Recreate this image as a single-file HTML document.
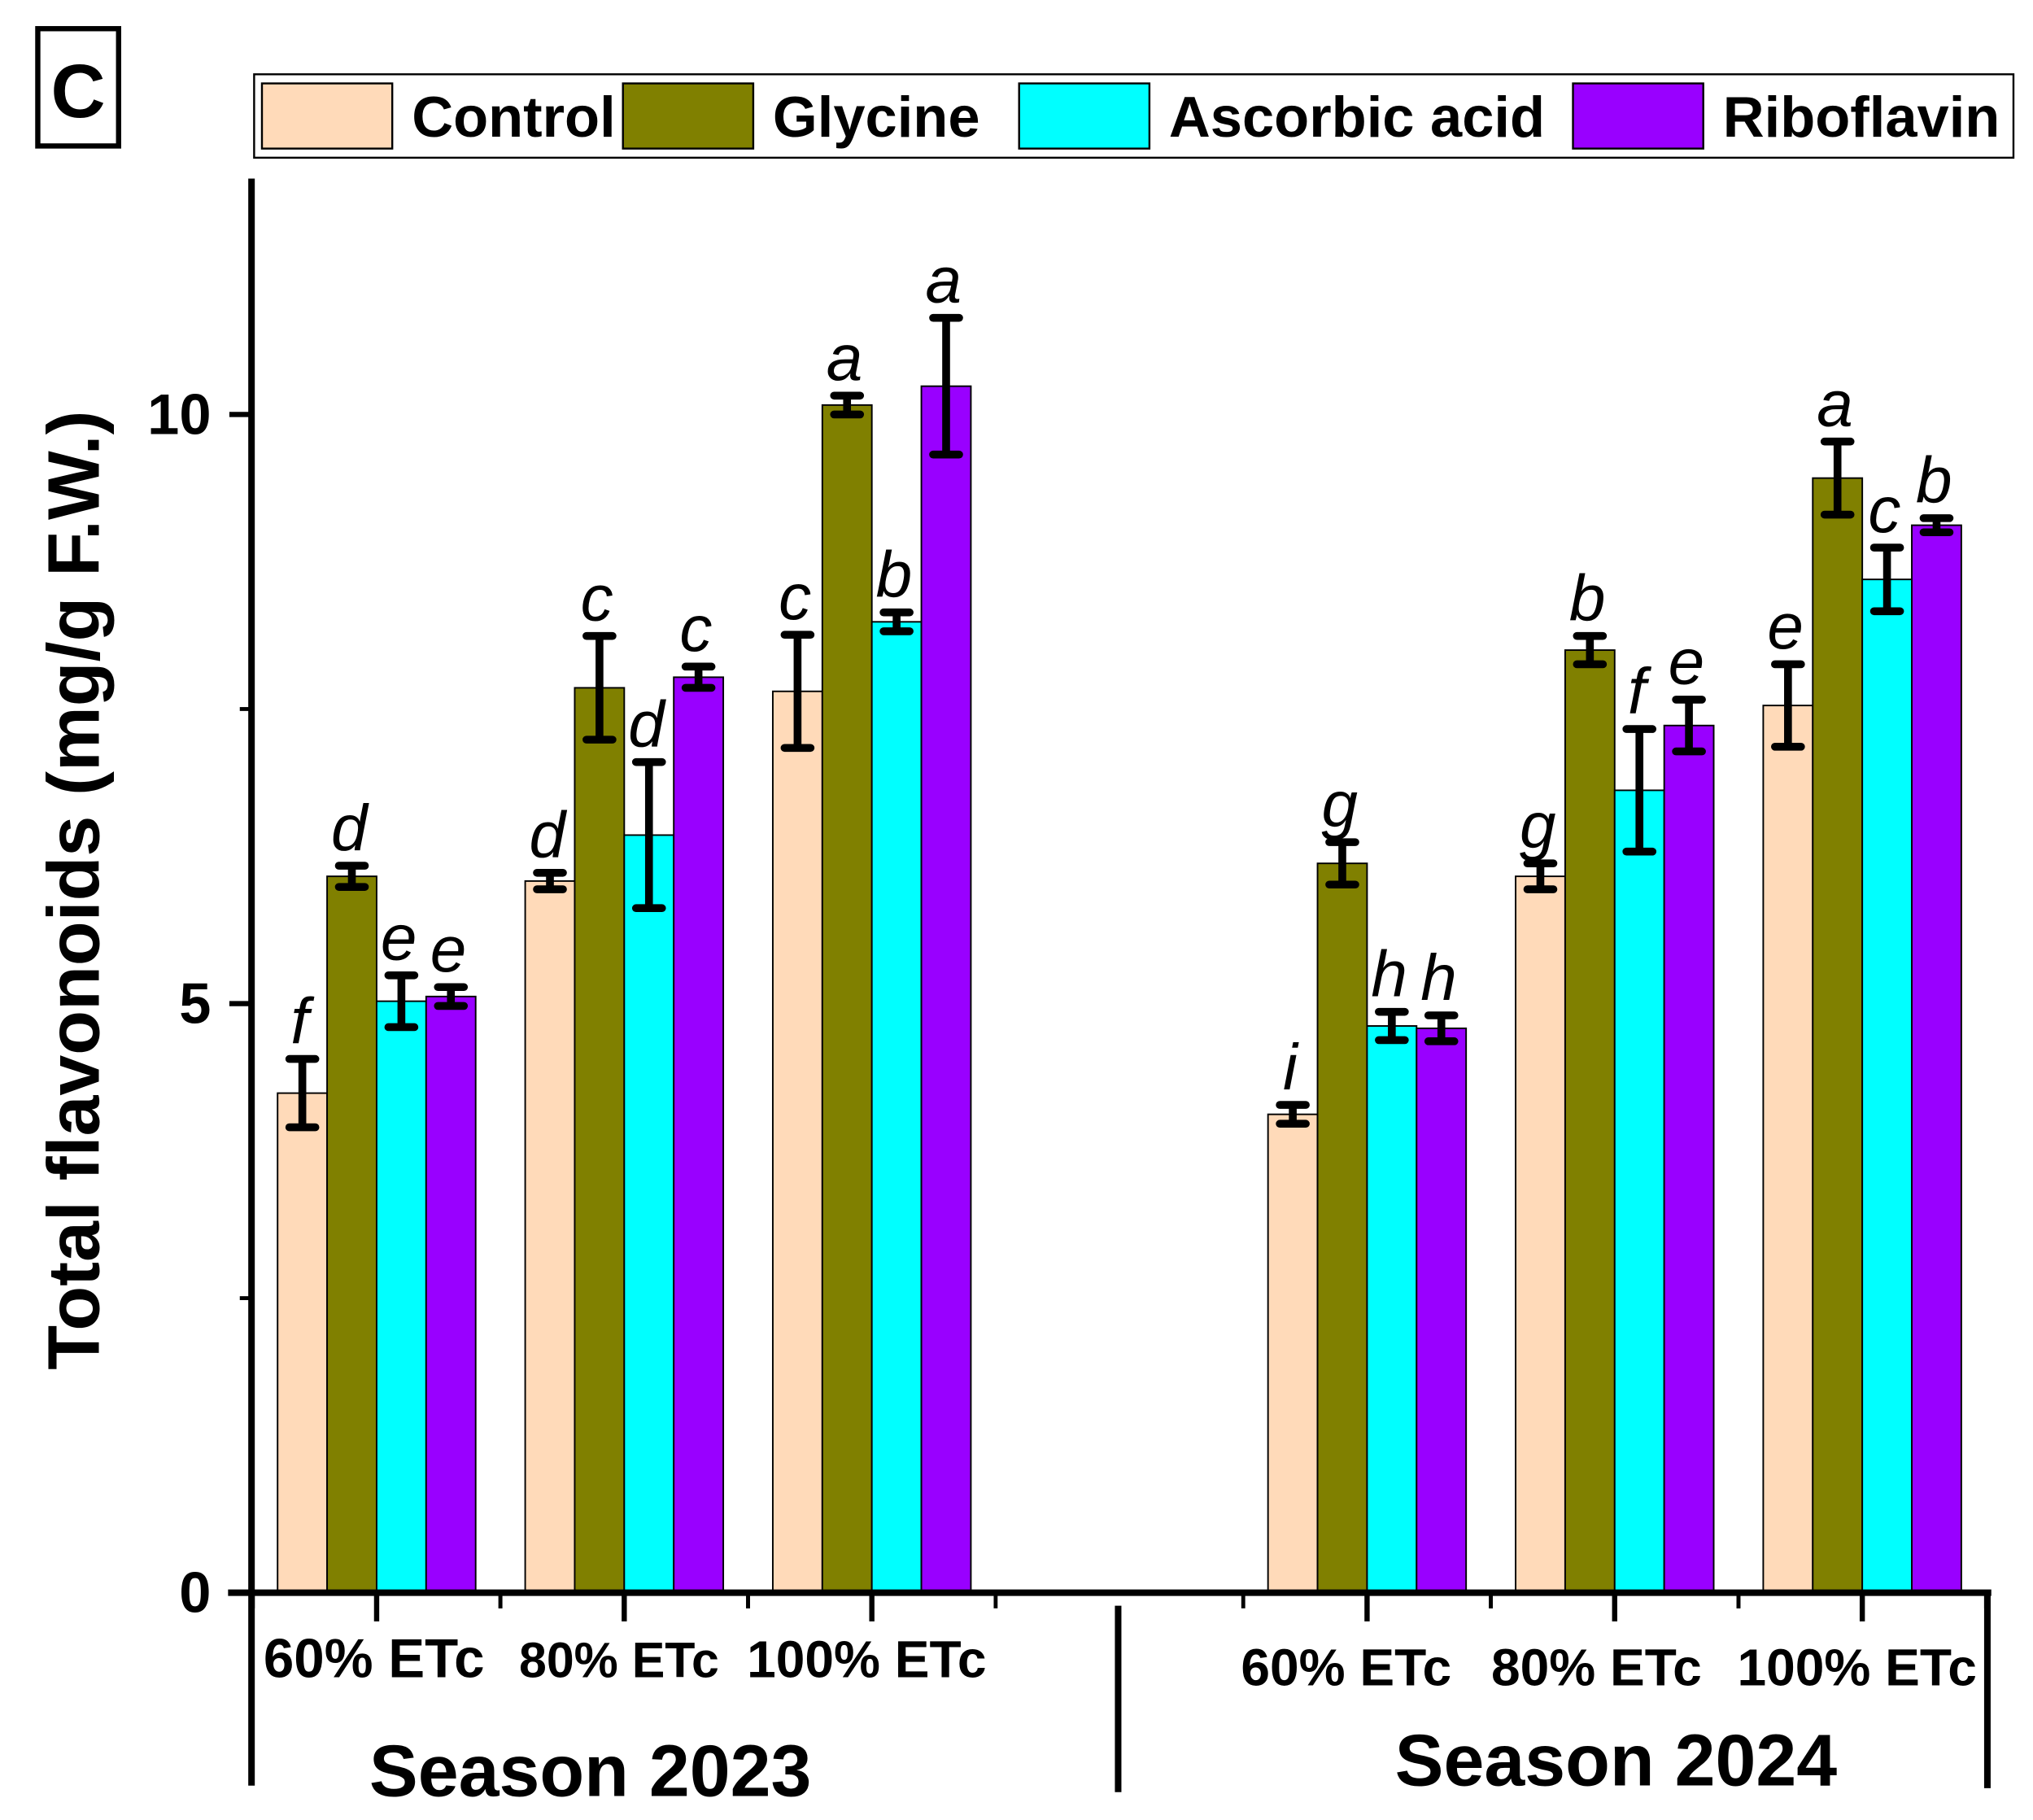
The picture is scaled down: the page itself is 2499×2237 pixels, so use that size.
<!DOCTYPE html>
<html><head><meta charset="utf-8"><style>
html,body{margin:0;padding:0;background:#fff}
svg{display:block}
text{font-family:"Liberation Sans",Arial,sans-serif}
</style></head><body>
<svg id="chart" width="2499" height="2237" viewBox="0 0 1560 1396.4" preserveAspectRatio="none" xmlns="http://www.w3.org/2000/svg">
<g>
<rect x="29" y="22" width="62" height="90" fill="none" stroke="#000" stroke-width="4"/>
<text x="60" y="90" font-size="58" font-weight="bold" text-anchor="middle">C</text>
</g>
<g>
<rect x="195" y="57" width="1350" height="64" fill="#fff" stroke="#000" stroke-width="1.5"/>
<g><rect x="201" y="64" width="100" height="50" fill="#FFDAB9" stroke="#000" stroke-width="1.5"/><text x="316" y="105" font-size="44" font-weight="bold">Control</text></g>
<g><rect x="478" y="64" width="100" height="50" fill="#808000" stroke="#000" stroke-width="1.5"/><text x="593" y="105" font-size="44" font-weight="bold">Glycine</text></g>
<g><rect x="782" y="64" width="100" height="50" fill="#00FFFF" stroke="#000" stroke-width="1.5"/><text x="897" y="105" font-size="44" font-weight="bold">Ascorbic acid</text></g>
<g><rect x="1207" y="64" width="100" height="50" fill="#9900FF" stroke="#000" stroke-width="1.5"/><text x="1322" y="105" font-size="44" font-weight="bold">Riboflavin</text></g>
</g>
<text transform="translate(76,683) rotate(-90)" font-size="56" font-weight="bold" text-anchor="middle">Total flavonoids (mg/g F.W.)</text>
<g id="bars"></g>
<g id="axes"></g>
</svg>
<script>
const groupLabels = ["60% ETc","80% ETc","100% ETc","60% ETc","80% ETc","100% ETc"];
const seriesNames = ["Control","Glycine","Ascorbic acid","Riboflavin"];
const control  = [4.24, 6.04, 7.65, 4.06, 6.08, 7.53];
const glycine  = [6.08, 7.68, 10.08, 6.19, 8.00, 9.46];
const ascorbic = [5.02, 6.43, 8.24, 4.81, 6.81, 8.60];
const ribo     = [5.06, 7.77, 10.24, 4.79, 7.36, 9.06];
const errControl  = [0.29, 0.07, 0.48, 0.08, 0.11, 0.35];
const errGlycine  = [0.09, 0.44, 0.08, 0.18, 0.12, 0.31];
const errAscorbic = [0.22, 0.62, 0.08, 0.12, 0.52, 0.27];
const errRibo     = [0.08, 0.09, 0.58, 0.11, 0.22, 0.06];
const lettersControl  = ["f","d","c","i","g","e"];
const lettersGlycine  = ["d","c","a","g","b","a"];
const lettersAscorbic = ["e","d","b","h","f","c"];
const lettersRibo     = ["e","c","a","h","e","b"];
const yTicks = [0,5,10];
const yMinor = [2.5,7.5];

const NS="http://www.w3.org/2000/svg";
const y = v => 1222 - 90.4*v;
const groupX = i => 289 + 190*(i<3 ? i : i+1);
const barW = 38;
const colors = ["#FFDAB9","#808000","#00FFFF","#9900FF"];
const vals=[control,glycine,ascorbic,ribo], errs=[errControl,errGlycine,errAscorbic,errRibo], lets=[lettersControl,lettersGlycine,lettersAscorbic,lettersRibo];
function mk(tag, attrs, parent){const e=document.createElementNS(NS,tag);for(const k in attrs)e.setAttribute(k,attrs[k]);parent.appendChild(e);return e;}
const bars=document.getElementById('bars'), axes=document.getElementById('axes');
for(let g=0;g<6;g++){
  for(let s=0;s<4;s++){
    const x0=groupX(g)-2*barW+s*barW, v=vals[s][g], e=errs[s][g], cx=x0+barW/2;
    const r=mk('rect',{x:x0,y:y(v),width:barW,height:y(0)-y(v),fill:colors[s],stroke:'#000','stroke-width':1.2},bars);
    
    
    const eb=mk('path',{d:`M${cx},${y(v+e)}V${y(v-e)}M${cx-10},${y(v+e)}H${cx+10}M${cx-10},${y(v-e)}H${cx+10}`,stroke:'#000','stroke-width':6,'stroke-linecap':'round',fill:'none'},bars);
    
    
    const t=mk('text',{x:cx-2,y:y(v+e)-12,'font-size':50,'font-style':'italic','text-anchor':'middle'},bars);
    t.textContent=lets[s][g];
    
    
  }
}
mk('line',{x1:193,y1:137,x2:193,y2:1370,stroke:'#000','stroke-width':5},axes);
mk('line',{x1:175,y1:1222,x2:1528,y2:1222,stroke:'#000','stroke-width':5},axes);
mk('line',{x1:858,y1:1232,x2:858,y2:1375,stroke:'#000','stroke-width':5},axes);
mk('line',{x1:1525,y1:1222,x2:1525,y2:1372,stroke:'#000','stroke-width':5},axes);
yTicks.forEach(v=>{
  mk('line',{x1:176,y1:y(v),x2:193,y2:y(v),stroke:'#000','stroke-width':4},axes);
  const t=mk('text',{x:162,y:y(v)+15,'font-size':44,'font-weight':'bold','text-anchor':'end'},axes);
  t.textContent=v;
  
  
});
yMinor.forEach(v=>mk('line',{x1:184,y1:y(v),x2:193,y2:y(v),stroke:'#000','stroke-width':3},axes));
for(let g=0;g<6;g++){
  const cx=groupX(g);
  mk('line',{x1:cx,y1:1222,x2:cx,y2:1244,stroke:'#000','stroke-width':4},axes);
  mk('line',{x1:cx-95,y1:1222,x2:cx-95,y2:1234,stroke:'#000','stroke-width':3},axes);
  mk('line',{x1:cx+95,y1:1222,x2:cx+95,y2:1234,stroke:'#000','stroke-width':3},axes);
  const fs = g==0 ? 42 : (g==1 ? 38 : 40);
  const off = g==0 ? -2 : (g==1 ? -4 : (g==3 ? -16 : (g==4 ? -14 : -4)));
  const t=mk('text',{x:cx+off,y:g<3?1287:1293,'font-size':fs,'font-weight':'bold','text-anchor':'middle'},axes);
  t.textContent=groupLabels[g];
  
  
}
const s1=mk('text',{x:453,y:1378,'font-size':56,'font-weight':'bold','text-anchor':'middle'},axes);
s1.textContent="Season 2023";


const s2=mk('text',{x:1240,y:1370,'font-size':56,'font-weight':'bold','text-anchor':'middle'},axes);
s2.textContent="Season 2024";


</script>
</body></html>
